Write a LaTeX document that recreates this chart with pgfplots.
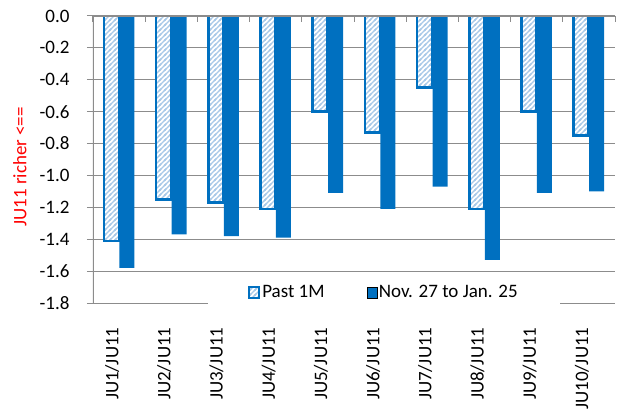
\documentclass[border=0pt]{standalone}
\usepackage{fontspec}
\setmainfont{Carlito}
\usepackage{pgfplots}
\usepackage{pgfplotstable}
\pgfplotsset{compat=1.18}
\usetikzlibrary{patterns.meta}

\definecolor{barblue}{HTML}{0070C0}
\definecolor{hatchblue}{HTML}{A8C9E8}
\definecolor{gridgray}{HTML}{8C8C8C}

% wide diagonal hatch used for the "Past 1M" bars
\tikzdeclarepattern{
  name=widehatch,
  type=uncolored,
  bounding box={(-1bp,-1bp) and (6bp,6bp)},
  tile size={(5bp,5bp)},
  code={\draw[line width=1.4bp] (-1bp,-1bp)--(6bp,6bp) (-1bp,4bp)--(1bp,6bp) (4bp,-1bp)--(6bp,1bp);}
}

% spread changes per contract pair
\pgfplotstableread{
x past nov
0 -1.41 -1.58
1 -1.15 -1.37
2 -1.17 -1.38
3 -1.21 -1.39
4 -0.60 -1.11
5 -0.73 -1.21
6 -0.45 -1.07
7 -1.21 -1.53
8 -0.60 -1.11
9 -0.75 -1.10
}\spreads

\begin{document}
\fontsize{19bp}{23bp}\selectfont
\begin{tikzpicture}
\begin{axis}[
  scale only axis,
  width=522bp, height=287bp,
  xmin=-0.5, xmax=9.5,
  ymin=-1.8, ymax=0,
  ybar=0.5bp,
  bar width=15bp,
  axis line style={draw=none},
  xtick={-0.5,0.5,...,9.5},
  xticklabels={},
  extra x ticks={0,...,9},
  extra x tick labels={JU1/JU11,JU2/JU11,JU3/JU11,JU4/JU11,JU5/JU11,JU6/JU11,JU7/JU11,JU8/JU11,JU9/JU11,JU10/JU11},
  extra x tick style={major tick length=0pt, xticklabel pos=left,
    xticklabel style={xshift=-7bp, yshift=-18bp, rotate=90, anchor=east}},
  xtick pos=right,
  ytick={-1.8,-1.6,...,0},
  yticklabels={-1.8,-1.6,-1.4,-1.2,-1.0,-0.8,-0.6,-0.4,-0.2,0.0},
  ytick pos=left,
  tick align=inside,
  major tick length=6bp,
  every tick/.style={gridgray, line width=1bp},
  every y tick/.append style={xshift=-6bp},
  yticklabel style={xshift=-17bp},
  ymajorgrids,
  major grid style={gridgray, line width=1bp},
  ylabel={JU11 richer <==},
  ylabel style={text=red, at={(axis description cs:-0.14,0.474)}, anchor=center},
  legend style={draw=none, fill=white, at={(0.557,0.035)}, anchor=center,
    legend columns=2, inner xsep=40bp, inner ysep=3bp,
    /tikz/every even column/.append style={column sep=40bp}},
  legend image code/.code={\draw[#1] (0bp,-5bp) rectangle (10bp,6bp);},
]
\addplot[draw=barblue, line width=2.5bp, fill=white,
  postaction={pattern=widehatch, pattern color=hatchblue}]
  table[x=x, y=past] {\spreads};
\addplot[draw=none, fill=barblue] table[x=x, y=nov] {\spreads};
\legend{Past 1M, Nov. 27 to Jan. 25}
\draw[gridgray, line width=1.3bp] (rel axis cs:0,0) -- (rel axis cs:0,1) -- (rel axis cs:1,1);
\end{axis}
\pgfresetboundingbox
\useasboundingbox ([xshift=-93bp,yshift=-107bp]current axis.south west)
  rectangle ([xshift=5bp,yshift=16bp]current axis.north east);
\end{tikzpicture}
\end{document}
